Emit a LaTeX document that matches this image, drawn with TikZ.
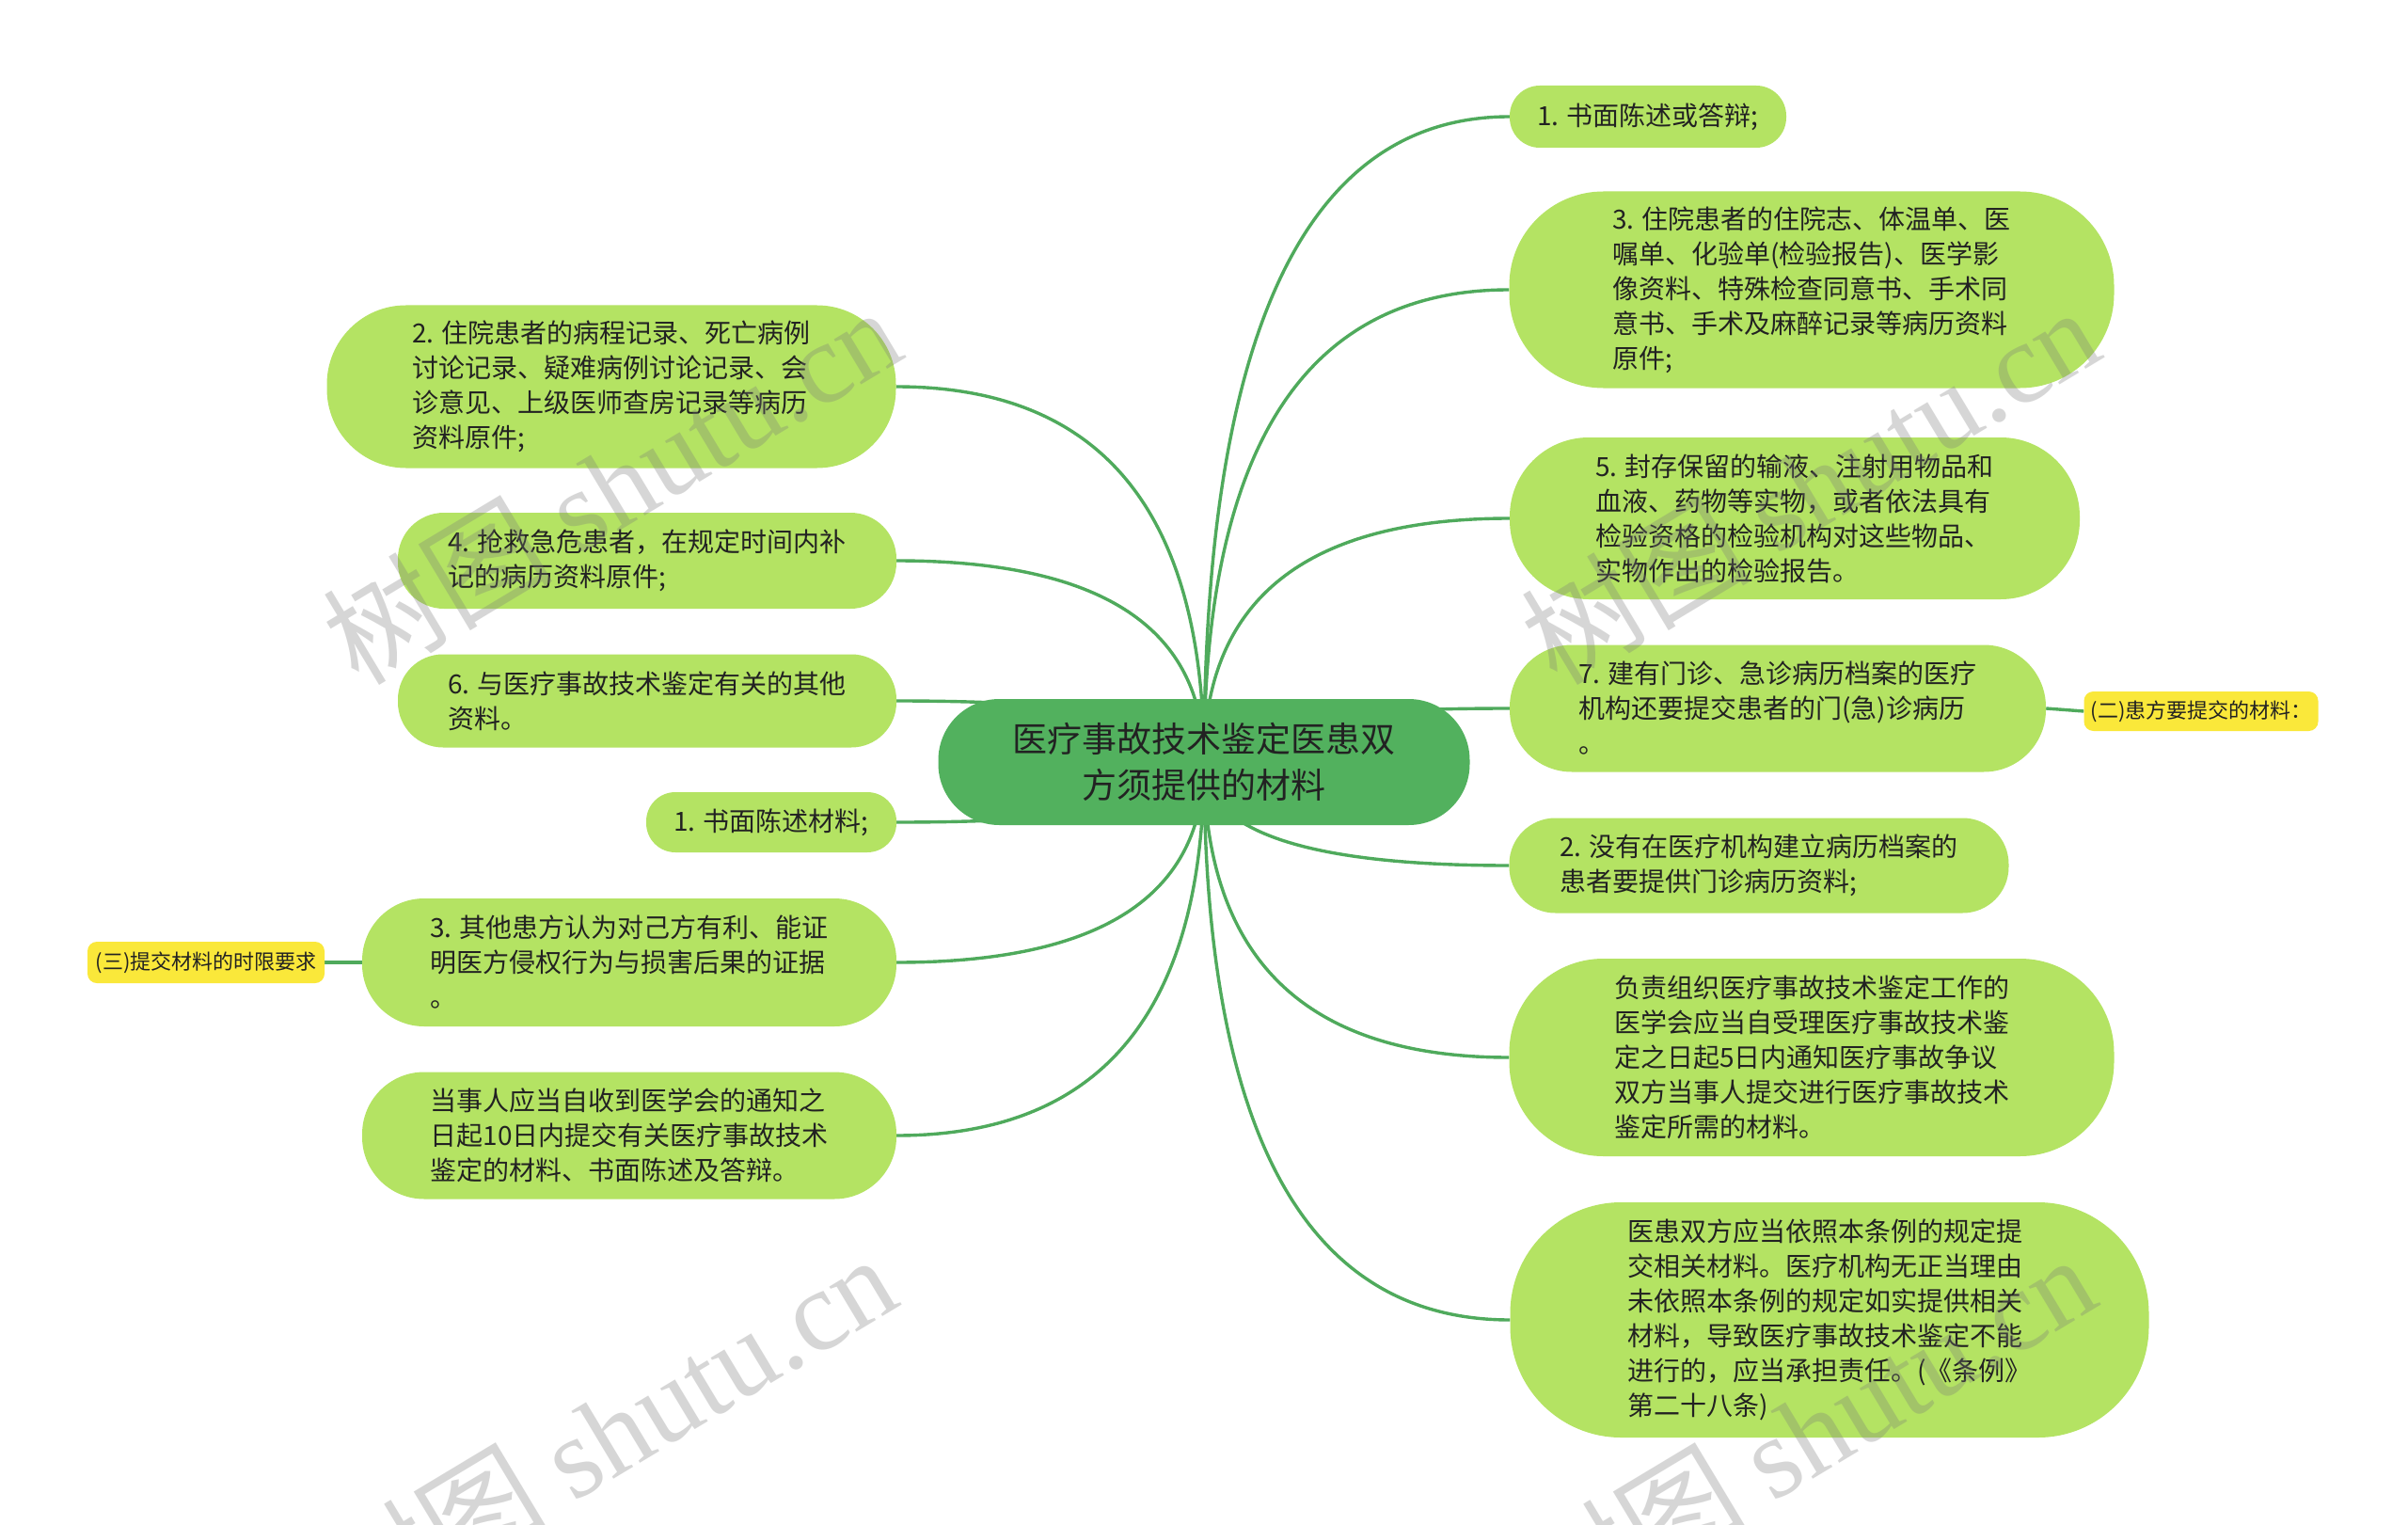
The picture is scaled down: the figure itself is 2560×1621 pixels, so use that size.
\documentclass[tikz,border=0pt]{standalone}
\usepackage{fontspec}
\setmainfont{Noto Sans CJK SC}
\newfontfamily\cjk{Noto Sans CJK SC}
\newfontfamily\wmlat{Liberation Serif}
\usetikzlibrary{calc,backgrounds}
\definecolor{leafc}{HTML}{B4E363}
\definecolor{rootc}{HTML}{52B15E}
\definecolor{edgec}{HTML}{4FAA5C}
\definecolor{tagc}{HTML}{FAE83A}
\definecolor{txtc}{HTML}{222222}
\definecolor{wmc}{HTML}{7A7A7A}
\newcommand\bran[1]{\draw[link] (c.center) .. controls ($(c.center)!0.6667!(c.center |- #1)$) and ($(#1)!0.6667!(c.center |- #1)$) .. (#1);}
\begin{document}
\begin{tikzpicture}[x=1pt,y=-1pt,
  leaf/.style={fill=leafc,text=txtc,align=left,inner sep=0pt,font=\fontsize{28}{37}\selectfont},
  root/.style={fill=rootc,text=txtc,align=center,inner sep=0pt,font=\fontsize{37}{49}\selectfont},
  tag/.style={fill=tagc,text=txtc,inner sep=0pt,rounded corners=10pt,font=\fontsize{22}{28}\selectfont},
  link/.style={draw=edgec,line width=3.4pt},
  wm/.style={rotate=31,text=wmc,opacity=0.3,inner sep=0pt,font=\fontsize{122}{130}\selectfont}]
\useasboundingbox (0,0) rectangle (2560,1621);
% root
\node[root,minimum width=565pt,minimum height=134pt,rounded corners=65pt] (c) at (1280,810) {医疗事故技术鉴定医患双\\方须提供的材料};
% right side
\node[leaf,minimum width=294pt,minimum height=66pt,rounded corners=32pt] (r1) at (1752,124) {1. 书面陈述或答辩;};
\node[leaf,minimum width=643pt,minimum height=209pt,rounded corners=100pt] (r2) at (1926,308) {3. 住院患者的住院志、体温单、医\\嘱单、化验单(检验报告)、医学影\\像资料、特殊检查同意书、手术同\\意书、手术及麻醉记录等病历资料\\原件;};
\node[leaf,minimum width=606pt,minimum height=172pt,rounded corners=84pt] (r3) at (1908,551) {5. 封存保留的输液、注射用物品和\\血液、药物等实物，或者依法具有\\检验资格的检验机构对这些物品、\\实物作出的检验报告。};
\node[leaf,minimum width=570pt,minimum height=135pt,rounded corners=66pt] (r4) at (1890,753) {7. 建有门诊、急诊病历档案的医疗\\机构还要提交患者的门(急)诊病历\\。};
\node[leaf,minimum width=531pt,minimum height=101pt,rounded corners=49pt] (r5) at (1870,920) {2. 没有在医疗机构建立病历档案的\\患者要提供门诊病历资料;};
\node[leaf,minimum width=643pt,minimum height=210pt,rounded corners=100pt] (r6) at (1926,1124) {负责组织医疗事故技术鉴定工作的\\医学会应当自受理医疗事故技术鉴\\定之日起5日内通知医疗事故争议\\双方当事人提交进行医疗事故技术\\鉴定所需的材料。};
\node[leaf,minimum width=679pt,minimum height=250pt,rounded corners=118pt] (r7) at (1945,1403) {医患双方应当依照本条例的规定提\\交相关材料。医疗机构无正当理由\\未依照本条例的规定如实提供相关\\材料，导致医疗事故技术鉴定不能\\进行的，应当承担责任。(《条例》\\第二十八条)};
\node[tag,minimum width=249pt,minimum height=42pt] (yr) at (2340,756) {(二)患方要提交的材料：};
% left side
\node[leaf,minimum width=605pt,minimum height=173pt,rounded corners=84pt] (l1) at (650,411) {2. 住院患者的病程记录、死亡病例\\讨论记录、疑难病例讨论记录、会\\诊意见、上级医师查房记录等病历\\资料原件;};
\node[leaf,minimum width=530pt,minimum height=102pt,rounded corners=49pt] (l2) at (688,596) {4. 抢救急危患者，在规定时间内补\\记的病历资料原件;};
\node[leaf,minimum width=530pt,minimum height=99pt,rounded corners=48pt] (l3) at (688,745) {6. 与医疗事故技术鉴定有关的其他\\资料。};
\node[leaf,minimum width=266pt,minimum height=64pt,rounded corners=31pt] (l4) at (820,874) {1. 书面陈述材料;};
\node[leaf,minimum width=568pt,minimum height=136pt,rounded corners=66pt] (l5) at (669,1023) {3. 其他患方认为对己方有利、能证\\明医方侵权行为与损害后果的证据\\。};
\node[leaf,minimum width=568pt,minimum height=135pt,rounded corners=66pt] (l6) at (669,1207) {当事人应当自收到医学会的通知之\\日起10日内提交有关医疗事故技术\\鉴定的材料、书面陈述及答辩。};
\node[tag,minimum width=252pt,minimum height=44pt] (yl) at (219,1023) {(三)提交材料的时限要求};
% connectors
\begin{scope}[on background layer]
\fill[white] (0,0) rectangle (2560,1621);
\bran{r1.west}
\bran{r2.west}
\bran{r3.west}
\bran{r4.west}
\bran{r5.west}
\bran{r6.west}
\bran{r7.west}
\bran{l1.east}
\bran{l2.east}
\bran{l3.east}
\bran{l4.east}
\bran{l5.east}
\bran{l6.east}
\draw[link] (r4.east) -- (yr.west);
\draw[link] (l5.west) -- (yl.east);
\end{scope}
% watermarks
\node[wm] (w1) at (650,515) {{\cjk 树图} {\wmlat shutu.cn}};
\node[wm] (w2) at (1924,515) {{\cjk 树图} {\wmlat shutu.cn}};
\node[wm] (w3) at (645,1522) {{\cjk 树图} {\wmlat shutu.cn}};
\node[wm] (w4) at (1920,1522) {{\cjk 树图} {\wmlat shutu.cn}};
\end{tikzpicture}
\end{document}
